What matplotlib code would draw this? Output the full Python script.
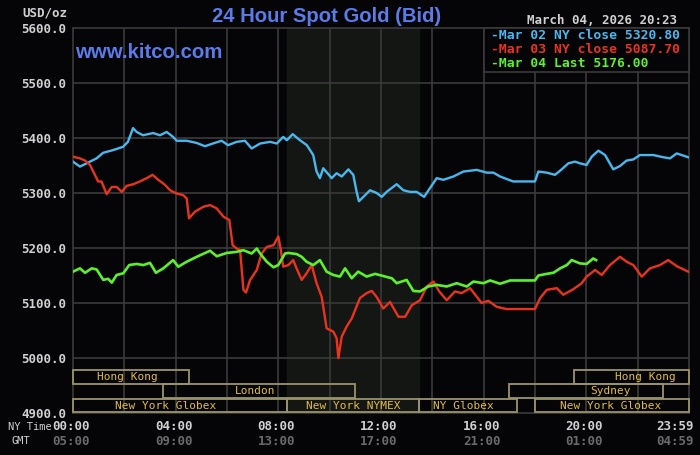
import matplotlib
matplotlib.use("Agg")
import matplotlib.pyplot as plt
from matplotlib.patches import Rectangle

# ---------------- data ----------------
blue_t = [0.0, 0.27, 0.53, 0.92, 1.17, 1.56, 1.95, 2.14, 2.34, 2.48, 2.73, 3.12, 3.39, 3.65, 3.90,
          4.04, 4.43, 4.82, 5.14, 5.45, 5.79, 6.04, 6.38, 6.70, 6.96, 7.29, 7.68, 7.94, 8.19,
          8.33, 8.56, 8.84, 9.11, 9.36, 9.49, 9.62, 9.75, 10.08, 10.27, 10.47, 10.73, 10.92,
          11.05, 11.14, 11.38, 11.57, 11.83, 12.03, 12.22, 12.61, 12.87, 13.13, 13.39, 13.68,
          13.91, 14.17, 14.43, 14.82, 15.21, 15.73, 16.12, 16.38, 16.64, 17.15, 18.00, 18.13,
          18.46, 18.78, 19.04, 19.30, 19.56, 19.75, 20.01, 20.21, 20.47, 20.73, 21.05, 21.31,
          21.57, 21.83, 22.09, 22.61, 23.00, 23.26, 23.52, 23.97]
blue_v = [5357, 5348, 5354, 5363, 5373, 5378, 5384, 5393, 5418, 5411, 5405, 5409, 5405, 5411, 5402,
          5395, 5395, 5391, 5385, 5390, 5395, 5387, 5393, 5395, 5381, 5390, 5393, 5390, 5402,
          5396, 5407, 5396, 5387, 5369, 5339, 5327, 5345, 5327, 5336, 5330, 5343, 5333,
          5302, 5285, 5296, 5305, 5300, 5293, 5302, 5316, 5305, 5302, 5302, 5293,
          5309, 5327, 5324, 5330, 5339, 5342, 5337, 5337, 5330, 5321, 5321, 5339,
          5337, 5333, 5343, 5354, 5357, 5354, 5351, 5366, 5377, 5369, 5343, 5349,
          5359, 5361, 5369, 5369, 5365, 5363, 5372, 5365]

red_t = [0.0, 0.27, 0.47, 0.66, 0.79, 0.98, 1.11, 1.31, 1.51, 1.70, 1.90, 2.09, 2.35, 2.61, 2.87,
         3.10, 3.32, 3.58, 3.78, 4.04, 4.30, 4.43, 4.52, 4.75, 5.08, 5.34, 5.60, 5.86, 6.09,
         6.22, 6.38, 6.51, 6.64, 6.74, 6.90, 7.16, 7.35, 7.55, 7.81, 8.00, 8.10, 8.19, 8.39,
         8.58, 8.71, 8.91, 9.10, 9.30, 9.49, 9.69, 9.88, 10.14, 10.27, 10.34, 10.47, 10.66,
         10.86, 11.18, 11.44, 11.64, 11.83, 12.09, 12.35, 12.68, 12.94, 13.20, 13.52, 13.78,
         14.04, 14.27, 14.56, 14.88, 15.14, 15.47, 15.92, 16.18, 16.51, 16.90, 18.00, 18.20,
         18.46, 18.85, 19.10, 19.49, 19.82, 20.01, 20.34, 20.60, 20.92, 21.31, 21.57, 21.83,
         22.16, 22.48, 22.87, 23.19, 23.52, 23.97]
red_v = [5366, 5363, 5359, 5351, 5339, 5321, 5321, 5298, 5311, 5311, 5302, 5313, 5316, 5321, 5327,
         5333, 5324, 5315, 5305, 5299, 5296, 5290, 5254, 5266, 5275, 5278, 5272, 5257, 5251,
         5205, 5199, 5196, 5124, 5119, 5142, 5160, 5190, 5202, 5205, 5221, 5196, 5166, 5169,
         5178, 5163, 5142, 5154, 5169, 5136, 5111, 5054, 5048, 5036, 5000, 5039, 5057,
         5072, 5109, 5118, 5122, 5111, 5090, 5102, 5075, 5075, 5096, 5105, 5130,
         5139, 5121, 5105, 5121, 5118, 5127, 5100, 5104, 5093, 5089, 5089, 5109,
         5124, 5127, 5115, 5125, 5136, 5148, 5160, 5151, 5169, 5184, 5175, 5169,
         5148, 5163, 5169, 5178, 5167, 5157]

green_t = [0.0, 0.27, 0.47, 0.73, 0.92, 1.18, 1.37, 1.51, 1.70, 1.96, 2.19, 2.48, 2.74, 3.00, 3.23,
           3.52, 3.90, 4.10, 4.43, 4.82, 5.34, 5.60, 5.99, 6.38, 6.64, 6.96, 7.16, 7.29, 7.55,
           7.81, 8.00, 8.26, 8.39, 8.71, 8.91, 9.10, 9.36, 9.62, 9.88, 10.14, 10.40, 10.60,
           10.86, 11.11, 11.44, 11.77, 12.09, 12.42, 12.61, 13.00, 13.26, 13.52, 13.84, 14.17,
           14.56, 14.95, 15.34, 15.60, 15.99, 16.25, 16.64, 17.03, 18.00, 18.13, 18.46, 18.72,
           18.98, 19.24, 19.43, 19.75, 20.01, 20.27, 20.38]
green_v = [5157, 5163, 5155, 5163, 5161, 5142, 5144, 5137, 5151, 5154, 5169, 5171, 5169, 5173, 5155,
           5163, 5178, 5166, 5175, 5184, 5195, 5185, 5191, 5193, 5196, 5190, 5199, 5190, 5175,
           5165, 5169, 5190, 5191, 5189, 5184, 5175, 5169, 5178, 5157, 5151, 5148, 5163,
           5145, 5157, 5148, 5153, 5149, 5145, 5136, 5142, 5122, 5121, 5130, 5133,
           5130, 5136, 5130, 5139, 5136, 5141, 5135, 5141, 5141, 5150, 5153, 5155,
           5163, 5169, 5178, 5172, 5171, 5181, 5178]

legend_labels = ["Mar 02 NY close 5320.80", "Mar 03 NY close 5087.70", "Mar 04 Last 5176.00"]

y_ticks = [4900, 5000, 5100, 5200, 5300, 5400, 5500, 5600]
x_ticks = [0, 4, 8, 12, 16, 20, 23.983]
x_tick_labels = ["00:00", "04:00", "08:00", "12:00", "16:00", "20:00", "23:59"]
gmt_labels = ["05:00", "09:00", "13:00", "17:00", "21:00", "01:00", "04:59"]

# sessions: (name, row, start hour, end hour)
sessions = [
    ("Hong Kong", 0, 0.0, 4.5),
    ("Hong Kong", 0, 19.5, 24.0),
    ("London", 1, 3.5, 11.0),
    ("Sydney", 1, 17.0, 23.0),
    ("New York Globex", 2, 0.0, 8.33),
    ("New York NYMEX", 2, 8.33, 13.5),
    ("NY Globex", 2, 13.5, 17.3),
    ("New York Globex", 2, 18.0, 24.0),
]
session_label_x = [2.1, 22.3, 7.1, 20.95, 3.6, 10.9, 15.2, 20.95]

nymex_start, nymex_end = 8.33, 13.5

# ---------------- style ----------------
BG = "#050508"
GRID = "#3a3a3a"
C_BLUE = "#4ab8ee"
C_RED = "#e8341f"
C_GREEN = "#5df02c"
TXT = "#d0d0d0"
GOLD = "#e2bc44"
BOX = "#9a9468"
TITLE = "#5b7be8"
MONO = "DejaVu Sans Mono"

fig = plt.figure(figsize=(7.0, 4.55), dpi=100, facecolor=BG)
ax = fig.add_axes([73 / 700, 42 / 455, 616 / 700, 385 / 455])
ax.set_facecolor(BG)
ax.set_xlim(0, 24)
ax.set_ylim(4900, 5600)

ax.axvspan(nymex_start, nymex_end, color="#141614", zorder=0)

for gx in range(2, 24, 2):
    ax.axvline(gx, color=GRID, lw=1.2, zorder=1)
for gy in y_ticks[1:-1]:
    ax.axhline(gy, color=GRID, lw=1.2, zorder=1)

for s in ax.spines.values():
    s.set_color(GRID)
    s.set_linewidth(1.2)

ax.plot(blue_t, blue_v, color=C_BLUE, lw=1.7, zorder=3)
ax.plot(red_t, red_v, color=C_RED, lw=1.7, zorder=4)
ax.plot(green_t, green_v, color=C_GREEN, lw=1.9, zorder=5)

# session bars
row_bottoms = [4953.5, 4928.0, 4901.0]
row_h = 24.0
for (name, row, t0, t1), lx in zip(sessions, session_label_x):
    ax.add_patch(Rectangle((t0, row_bottoms[row]), t1 - t0, row_h, facecolor="none",
                           edgecolor=BOX, lw=1.3, zorder=6, clip_on=False))
    ax.text(lx, row_bottoms[row] + row_h / 2, name, color=GOLD, fontsize=8, family=MONO,
            ha="center", va="center", zorder=7)

# ticks
ax.set_yticks(y_ticks)
ax.set_yticklabels([f"{v:.1f}" for v in y_ticks], color=TXT, fontsize=9, family=MONO,
                   fontweight="bold")
ax.tick_params(axis="both", length=0, pad=5)
ax.set_xticks([])
for xt, lab, g in zip(x_ticks, x_tick_labels, gmt_labels):
    ha = "center"
    xpos = xt
    if lab == "23:59":
        ha = "right"
        xpos = 24.25
    ax.text(xpos - 0.08, 4900 - 25, lab, color=TXT, fontsize=9, family=MONO, fontweight="bold",
            ha=ha, va="center", clip_on=False)
    ax.text(xpos - 0.08, 4900 - 51, g, color="#6a6a6a", fontsize=9, family=MONO, fontweight="bold",
            ha=ha, va="center", clip_on=False)

fig.text(8 / 700, 1 - 427 / 455, "NY Time", color=TXT, fontsize=7.5, family=MONO, va="center")
fig.text(12 / 700, 1 - 441 / 455, "GMT", color=TXT, fontsize=7.5, family=MONO, va="center")

# header texts
fig.text(326.5 / 700, 1 - 16 / 455, "24 Hour Spot Gold (Bid)", color=TITLE, fontsize=14.6,
         family="Liberation Sans", fontweight="bold", ha="center", va="center")
fig.text(75 / 700, 1 - 52 / 455, "www.kitco.com", color=TITLE, fontsize=14.7,
         family="Liberation Sans", fontweight="bold", ha="left", va="center")
fig.text(677 / 700, 1 - 21 / 455, "March 04, 2026 20:23", color=TXT, fontsize=9, family=MONO,
         fontweight="bold", ha="right", va="center")
fig.text(22 / 700, 1 - 13 / 455, "USD/oz", color=TXT, fontsize=9, family=MONO,
         fontweight="bold", ha="left", va="center")

# legend box
lax = fig.add_axes([484 / 700, 1 - 72 / 455, 205 / 700, 44 / 455])
lax.set_facecolor(BG)
lax.set_xticks([])
lax.set_yticks([])
for s in lax.spines.values():
    s.set_color(GRID)
    s.set_linewidth(1.2)
for i, (lab, c) in enumerate(zip(legend_labels, [C_BLUE, C_RED, C_GREEN])):
    lax.text(0.035, 0.82 - i * 0.31, "-" + lab, color=c, fontsize=9.4, family=MONO,
             fontweight="bold", transform=lax.transAxes, va="center", ha="left")

fig.savefig("out.png", dpi=100, facecolor=BG)
